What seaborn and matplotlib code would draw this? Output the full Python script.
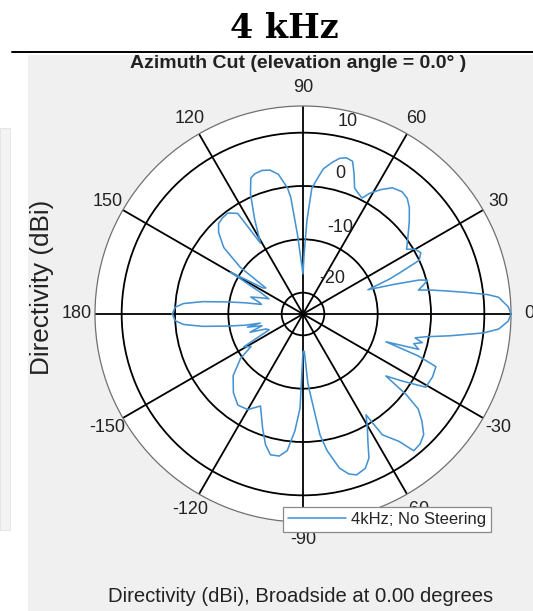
import numpy as np
import pandas as pd
import matplotlib
matplotlib.use("Agg")
import matplotlib.pyplot as plt
import matplotlib.transforms as mtransforms
from matplotlib.patches import Rectangle
from matplotlib.lines import Line2D
import seaborn as sns

# ---------------- data ----------------
angle_deg = [
    -180, -177, -175, -173, -171, -169, -168, -166.7, -164, -161, -158, -155,
    -151, -148, -144.5, -138.5, -131.5, -125.6, -120, -114.8, -109.5, -106,
    -103, -99.5, -96.6, -94, -91.8, -90, -88, -86, -85, -82, -80, -76.7, -74,
    -71.6, -68, -65.4, -63, -60.5, -58, -56.7, -53, -51, -48, -45, -42, -39.5,
    -38, -36.8, -34, -30.8, -25.8, -21.6, -20, -18.5, -17, -15, -13.5, -12,
    -10.5, -8.5, -6, -4.4, -2, 0, 2, 4.9, 6, 7.6, 9, 10.5, 11.7, 13.5, 15.2,
    16.3, 18, 20.5, 22, 23, 24.8, 27.5, 30, 32, 36, 41, 45, 48, 51, 54.7, 58,
    61, 63, 65, 67.7, 70, 72, 74.5, 76.7, 79, 82, 84, 86, 87.6, 89, 90, 92, 94,
    96, 97, 100, 103, 106, 109, 111, 113.6, 117, 121, 123, 126.7, 130, 133,
    136, 140, 143.3, 145, 147, 150, 153, 156, 159, 162, 165, 167, 169, 171,
    173, 175, 177, 180,
]
directivity_dbi = [
    0.5, 0.0, -1.5, -5.0, -9.5, -13.0, -15.8, -13.3, -16.0, -13.5, -16.5, -17.0,
    -11.3, -12.5, -9.6, -6.5, -4.3, -3.0, -3.3, -5.0, -1.3, 1.5,
    3.1, 3.0, 1.8, -2.0, -6.3, -17.0, -17.0, -11.0, -9.3, -1.1, 2.0, 5.7, 7.2,
    7.8, 7.2, 5.7, 2.8, 0.5, -1.7, 3.1, 5.9, 9.0, 8.8, 8.0, 6.0, 4.0,
    0.6, -4.6, -1.5, 2.8, 3.0, 2.8, -1.0, -7.6, -1.3, -2.5, -1.0, -2.5,
    -0.6, 3.7, 10.0, 12.8, 14.5, 15.0, 14.5, 12.8, 10.8, 6.7, 3.5, 0.6, -1.9, -0.8, 0.2,
    -1.3, -6.0, -11.0, -6.5, -4.4, 0.0, 0.9, 0.3, -1.1, 0.3, 2.4, 4.2, 5.2, 5.5, 5.0, 3.5,
    1.9, 0.4, 0.8, 1.5, 4.0, 6.1, 6.4, 6.0, 5.0, 3.5, 1.5, -0.4, -6.5, -13.0, -16.5, -14.0, -9.0,
    -2.0, -0.2, 2.6, 3.7, 4.0, 3.8, 3.3, 0.6, -4.0, -8.5, -1.5, -0.4, -0.5, -0.8,
    -2.0, -4.6, -9.3, -15.5, -15.0, -8.3, -15.0, -17.0, -15.5, -13.7, -15.5, -16.0, -13.0, -9.5,
    -5.0, -1.5, 0.0, 0.5,
]
theta_ticks = [0, 30, 60, 90, 120, 150, 180, 210, 240, 270, 300, 330]
theta_labels = ["0", "30", "60", "90", "120", "150", "180",
                "-150", "-120", "-90", "-60", "-30"]
r_ticks = [-20, -10, 0, 10]
r_labels = ["-20", "-10", "0", "10"]
r_limits = (-24, 15)
series_label = "4kHz; No Steering"
fig_title = "4 kHz"
ax_title = "Azimuth Cut (elevation angle = 0.0\u00b0 )"
y_text = "Directivity (dBi)"
x_text = "Directivity (dBi), Broadside at 0.00 degrees"

# ---------------- style ----------------
sns.set_theme(style="white")
plt.rcParams["font.family"] = ["Liberation Sans", "DejaVu Sans"]

W, H = 533, 611
fig = plt.figure(figsize=(W / 100, H / 100), dpi=100, facecolor="white")

# MATLAB-like grey figure panel + faint left panel + rule line
fig.patches.append(Rectangle((28 / W, 0), 1 - 28 / W, 1 - 55 / H,
                             transform=fig.transFigure, facecolor="#f0f0f0",
                             edgecolor="none", zorder=-10))
fig.patches.append(Rectangle((0, 1 - 530 / H), 10 / W, (530 - 128) / H,
                             transform=fig.transFigure, facecolor="#f3f3f3",
                             edgecolor="#e2e2e2", lw=0.6, zorder=-10))
fig.add_artist(Line2D([12 / W, 1], [1 - 52 / H, 1 - 52 / H],
                      transform=fig.transFigure, color="black", lw=1.4))

cx, cy, R = 303, 314, 208
ax = fig.add_axes([(cx - R) / W, (H - cy - R) / H, 2 * R / W, 2 * R / H],
                  projection="polar")
ax.set_zorder(1)
ax.set_facecolor("white")

line_color = "#4693d2"
df = pd.DataFrame({"theta": np.deg2rad(angle_deg), "dbi": directivity_dbi})
sns.lineplot(data=df, x="theta", y="dbi", ax=ax, sort=False, estimator=None,
             color=line_color, lw=1.15, label=series_label, legend=False, zorder=3)
ax.set_xlabel("")
ax.set_ylabel("")

ax.set_ylim(*r_limits)
ax.set_yticks(r_ticks)
ax.set_yticklabels([])
ax.set_xticks(np.deg2rad(theta_ticks))
ax.set_xticklabels([])
ax.grid(True, color="black", lw=1.3)
ax.set_axisbelow(True)
ax.spines["polar"].set_color("#707070")
ax.spines["polar"].set_linewidth(0.9)

# angle labels: centred on a circle just outside the outer ring
lab_r = 0.5 + 18 / (2 * R)
for ang, lab in zip(theta_ticks, theta_labels):
    a = np.deg2rad(ang)
    ax.text(0.5 + lab_r * np.cos(a), 0.5 + lab_r * np.sin(a), lab,
            transform=ax.transAxes, ha="center", va="center", fontsize=13,
            color="#222222", clip_on=False, zorder=4)

# radial magnitude labels, just beside the upper spoke
offs = [(29, 14), (37, 12), (37, 12), (45, 11)]
for tick, lab, (dx, dy) in zip(r_ticks, r_labels, offs):
    tr = mtransforms.offset_copy(ax.transData, fig=fig, x=dx * 0.72, y=dy * 0.72,
                                 units="points")
    ax.text(np.pi / 2, tick, lab, transform=tr, ha="center", va="center",
            fontsize=13, color="#222222", zorder=4)

# texts
fig.text(284 / W, 1 - 28 / H, fig_title, ha="center", va="center",
         fontsize=24, family="DejaVu Serif", weight="bold", color="black", zorder=5)
fig.text(298 / W, 1 - 63 / H, ax_title, ha="center", va="center",
         fontsize=14, weight="bold", color="#222222", zorder=5)
fig.text(42 / W, 1 - 287 / H, y_text, ha="center", va="center", rotation=90,
         fontsize=18.8, color="#222222", zorder=5)
fig.text(301 / W, 1 - 596 / H, x_text, ha="center", va="center",
         fontsize=14.6, color="#222222", zorder=5)

# legend
h, l = ax.get_legend_handles_labels()
leg = fig.legend(h, l, loc="upper left", bbox_to_anchor=(283 / W, 1 - 507 / H),
                 borderaxespad=0, frameon=True, fancybox=False, framealpha=1,
                 edgecolor="#8a8a8a", facecolor="white", fontsize=12,
                 handlelength=3.5, handletextpad=0.3, borderpad=0.3)
leg.get_frame().set_linewidth(0.9)
leg.set_zorder(10)

fig.savefig("out.png", dpi=100, facecolor=fig.get_facecolor())
